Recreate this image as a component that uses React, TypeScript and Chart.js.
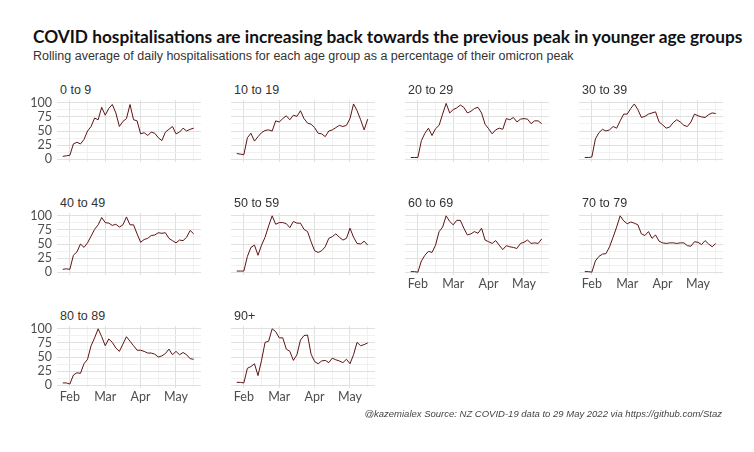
import React, { useEffect, useRef } from "react";
import { Chart, registerables } from "chart.js";

Chart.register(...registerables);

// ---------- data ----------
const days = [-6, -3, 0, 3, 6, 9, 12, 15, 18, 21, 24, 27, 30, 33, 36, 39, 42, 45, 48, 51, 54, 57, 60, 63, 66, 69, 72, 75, 78, 81, 84, 87, 90, 93, 96, 99, 102, 105];

const ageGroups = ["0 to 9", "10 to 19", "20 to 29", "30 to 39", "40 to 49", "50 to 59", "60 to 69", "70 to 79", "80 to 89", "90+"];

const age0to9 = [5, 6, 7, 27, 30, 27, 35, 50, 58, 73, 70, 92, 78, 90, 97, 82, 58, 67, 72, 97, 70, 68, 45, 47, 42, 48, 46, 38, 33, 48, 53, 58, 45, 48, 55, 50, 53, 55];
const age10to19 = [10, 9, 8, 38, 46, 32, 40, 47, 51, 52, 50, 68, 66, 72, 77, 70, 78, 76, 86, 72, 64, 62, 56, 46, 45, 40, 50, 52, 56, 60, 58, 60, 72, 98, 86, 70, 52, 71];
const age20to29 = [3, 3, 3, 33, 46, 55, 42, 54, 60, 80, 99, 82, 88, 91, 96, 92, 82, 85, 90, 92, 82, 62, 54, 45, 52, 55, 53, 72, 70, 74, 66, 71, 72, 71, 63, 68, 68, 63];
const age30to39 = [3, 3, 4, 36, 47, 53, 50, 52, 58, 55, 68, 80, 80, 90, 98, 88, 74, 76, 80, 82, 84, 66, 61, 55, 57, 65, 70, 66, 60, 58, 66, 80, 77, 75, 74, 79, 82, 81];
const age40to49 = [5, 6, 5, 30, 36, 50, 44, 52, 64, 76, 84, 97, 88, 87, 83, 85, 80, 84, 98, 84, 84, 68, 53, 58, 60, 65, 66, 70, 69, 70, 60, 56, 52, 57, 56, 62, 74, 68];
const age50to59 = [2, 2, 2, 28, 44, 48, 30, 48, 62, 82, 100, 85, 88, 88, 86, 79, 90, 87, 87, 76, 72, 54, 38, 35, 38, 45, 60, 63, 68, 62, 57, 60, 78, 62, 51, 50, 55, 48];
const age60to69 = [1, 1, 0, 20, 30, 37, 35, 48, 72, 80, 100, 90, 84, 92, 92, 78, 66, 68, 72, 69, 78, 57, 54, 51, 56, 48, 40, 47, 45, 44, 42, 51, 53, 57, 51, 52, 51, 59];
const age70to79 = [1, 1, 0, 20, 28, 32, 33, 45, 62, 80, 100, 91, 86, 89, 87, 84, 68, 65, 72, 60, 66, 55, 52, 51, 52, 52, 51, 52, 52, 47, 46, 54, 53, 49, 56, 50, 45, 51];
const age80to89 = [4, 4, 2, 18, 22, 21, 38, 46, 70, 84, 100, 86, 70, 82, 76, 66, 60, 73, 86, 78, 70, 62, 62, 60, 57, 57, 55, 50, 52, 56, 64, 54, 60, 54, 58, 54, 47, 46];
const age90plus = [5, 5, 4, 30, 33, 38, 17, 44, 76, 78, 100, 95, 84, 84, 64, 60, 44, 54, 80, 88, 89, 55, 42, 38, 43, 44, 40, 48, 45, 43, 40, 46, 38, 54, 76, 70, 72, 75];

const seriesList = [age0to9, age10to19, age20to29, age30to39, age40to49, age50to59, age60to69, age70to79, age80to89, age90plus];

const gridDays = [0, 15, 30, 45, 60, 75, 90, 105];
const monthDays = [0, 30, 60, 90];
const monthLabels = ["Feb", "Mar", "Apr", "May"];
const yGridValues = [0, 12.5, 25, 37.5, 50, 62.5, 75, 87.5, 100];
const yLabelValues = [0, 25, 50, 75, 100];

// ---------- layout / style ----------
const COL_LEFT = [57, 231, 405, 579];
const ROW_TOP = [100, 213, 326];
const PLOT_W = 144;
const PLOT_H = 62;
const Y_W = 40;
const PAD_TOP = 16;
const PAD_R = 4;
const X_H = 24;
const X_MIN = -10.9;
const X_MAX = 111.2;
const LINE_COLOR = "#5e1414";
const GRID_MAJOR = "#e0e0e0";
const GRID_MINOR = "#ededed";
const TICK_COLOR = "#4d4d4d";

type PanelProps = { title: string; values: number[]; index: number };

function Panel({ title, values, index }: PanelProps) {
  const ref = useRef<HTMLCanvasElement | null>(null);
  const col = index % 4;
  const row = Math.floor(index / 4);
  const showY = col === 0;
  const showX = index >= 6;
  const left = COL_LEFT[col];
  const top = ROW_TOP[row];

  useEffect(() => {
    if (!ref.current) return;
    const chart = new Chart(ref.current, {
      type: "line",
      data: {
        datasets: [
          {
            data: days.map((d, i) => ({ x: d, y: values[i] })),
            borderColor: LINE_COLOR,
            borderWidth: 1,
            pointRadius: 0,
            tension: 0,
            fill: false,
          },
        ],
      },
      options: {
        animation: false,
        responsive: false,
        events: [],
        layout: { padding: { top: PAD_TOP, right: PAD_R, left: 0, bottom: 0 } },
        plugins: { legend: { display: false }, tooltip: { enabled: false }, title: { display: false } },
        scales: {
          x: {
            type: "linear",
            min: X_MIN,
            max: X_MAX,
            afterBuildTicks: (s: any) => {
              s.ticks = gridDays.map((v) => ({ value: v }));
            },
            afterFit: (s: any) => {
              s.height = X_H;
            },
            ticks: {
              display: showX,
              autoSkip: false,
              maxRotation: 0,
              padding: 1,
              color: TICK_COLOR,
              font: { family: "Lato", size: 12.5 },
              callback: (v: any) => {
                const k = monthDays.indexOf(Number(v));
                return k >= 0 ? monthLabels[k] : "";
              },
            },
            grid: {
              drawTicks: false,
              color: (ctx: any) => (monthDays.includes(ctx.tick?.value) ? GRID_MAJOR : GRID_MINOR),
              lineWidth: (ctx: any) => (monthDays.includes(ctx.tick?.value) ? 1 : 0.8),
            },
            border: { display: false },
          },
          y: {
            min: -5,
            max: 105,
            afterBuildTicks: (s: any) => {
              s.ticks = yGridValues.map((v) => ({ value: v }));
            },
            afterFit: (s: any) => {
              s.width = Y_W;
            },
            ticks: {
              display: showY,
              autoSkip: false,
              padding: 5,
              color: TICK_COLOR,
              font: { family: "Lato", size: 12.5 },
              callback: (v: any) => (yLabelValues.includes(Number(v)) ? String(v) : ""),
            },
            grid: {
              drawTicks: false,
              color: (ctx: any) => (yLabelValues.includes(ctx.tick?.value) ? GRID_MAJOR : GRID_MINOR),
              lineWidth: (ctx: any) => (yLabelValues.includes(ctx.tick?.value) ? 1 : 0.8),
            },
            border: { display: false },
          },
        },
      },
    } as any);
    return () => chart.destroy();
  }, [values, showX, showY]);

  const cw = Y_W + PLOT_W + PAD_R;
  const ch = PAD_TOP + PLOT_H + X_H;
  return (
    <>
      <div
        style={{
          position: "absolute",
          left: left + 3,
          top: top - 18,
          lineHeight: "16px",
          fontFamily: "'Liberation Sans', Arial, sans-serif",
          fontSize: 12.5,
          color: "#333",
          whiteSpace: "nowrap",
        }}
      >
        {title}
      </div>
      <canvas
        ref={ref}
        width={cw}
        height={ch}
        style={{ position: "absolute", left: left - Y_W, top: top - PAD_TOP, width: cw, height: ch }}
      />
    </>
  );
}

export default function App() {
  return (
    <div
      style={{
        position: "fixed",
        left: 0,
        top: 0,
        width: 754,
        height: 452,
        background: "#ffffff",
        overflow: "hidden",
      }}
    >
      <div
        style={{
          position: "absolute",
          left: 33,
          top: 27,
          lineHeight: "20px",
          fontFamily: "Lato, sans-serif",
          fontWeight: 700,
          fontSize: 17.3,
          color: "#111",
          whiteSpace: "nowrap",
        }}
      >
        COVID hospitalisations are increasing back towards the previous peak in younger age groups
      </div>
      <div
        style={{
          position: "absolute",
          left: 33,
          top: 48,
          lineHeight: "16px",
          fontFamily: "'Liberation Sans', Arial, sans-serif",
          fontSize: 12.5,
          color: "#333",
          whiteSpace: "nowrap",
        }}
      >
        Rolling average of daily hospitalisations for each age group as a percentage of their omicron peak
      </div>
      {ageGroups.map((g, i) => (
        <Panel key={g} title={g} values={seriesList[i]} index={i} />
      ))}
      <div
        style={{
          position: "absolute",
          right: 32,
          top: 406,
          lineHeight: "16px",
          fontFamily: "'Liberation Sans', Arial, sans-serif",
          fontStyle: "italic",
          fontSize: 9.5,
          color: "#444",
          whiteSpace: "nowrap",
        }}
      >
        @kazemialex Source: NZ COVID-19 data to 29 May 2022 via https://github.com/Staz
      </div>
    </div>
  );
}
